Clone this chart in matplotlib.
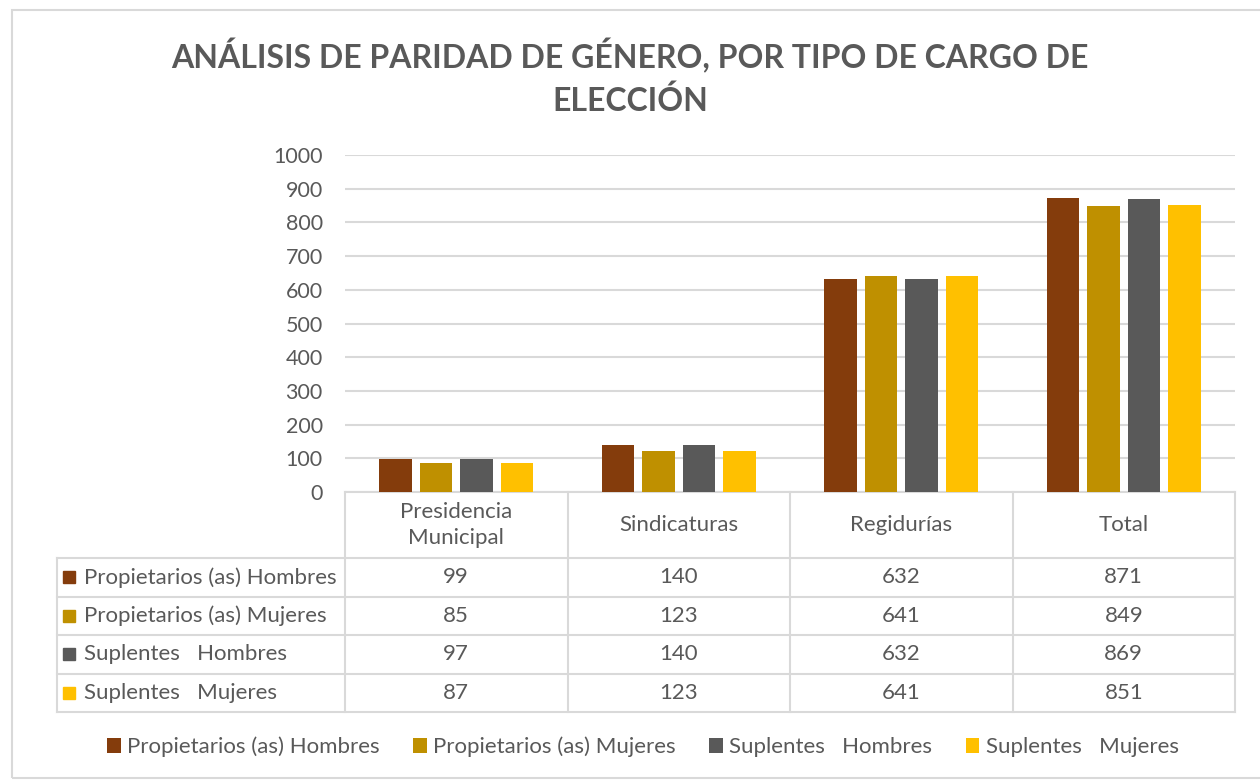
import matplotlib.pyplot as plt
from matplotlib.patches import Rectangle
import numpy as np

plt.rcParams['font.family'] = ['Lato', 'DejaVu Sans']

categories = ["Presidencia\nMunicipal", "Sindicaturas", "Regidurías", "Total"]
series_names = ["Propietarios (as) Hombres", "Propietarios (as) Mujeres",
                "Suplentes   Hombres", "Suplentes   Mujeres"]
prop_hombres = [99, 140, 632, 871]
prop_mujeres = [85, 123, 641, 849]
supl_hombres = [97, 140, 632, 869]
supl_mujeres = [87, 123, 641, 851]
y_ticks = [0, 100, 200, 300, 400, 500, 600, 700, 800, 900, 1000]

series = [prop_hombres, prop_mujeres, supl_hombres, supl_mujeres]
colors = ["#843C0C", "#BF9000", "#595959", "#FFC000"]
text_col = "#595959"
grid_col = "#d9d9d9"

W, H = 1260, 780


def box(x0, y0, x1, y1):
    # pixel box (top-left origin) -> figure fraction rect
    return [x0 / W, 1 - y1 / H, (x1 - x0) / W, (y1 - y0) / H]


fig = plt.figure(figsize=(12.6, 7.8), dpi=100)

# outer chart border
fig.patches.append(Rectangle((12 / W, 2 / H), 1.0, 1 - 12 / H, transform=fig.transFigure,
                             fill=False, edgecolor=grid_col, linewidth=1.5))

fig.text(0.5, 1 - 77 / H, "ANÁLISIS DE PARIDAD DE GÉNERO, POR TIPO DE CARGO DE\nELECCIÓN",
         ha="center", va="center", fontsize=23, fontweight="bold", color=text_col,
         linespacing=1.5)

# ---- bar chart
ax = fig.add_axes(box(345, 155, 1235, 492))
x = np.arange(len(categories))
bw = 0.144
step = 0.182
for i, (vals, c) in enumerate(zip(series, colors)):
    ax.bar(x + (i - 1.5) * step, vals, width=bw, color=c, label=series_names[i], zorder=3)

ax.set_xlim(-0.5, len(categories) - 0.5)
ax.set_ylim(0, 1000)
ax.set_yticks(y_ticks)
ax.set_xticks([])
ax.yaxis.grid(True, color=grid_col, linewidth=1.5, zorder=0)
for s in ["top", "right", "left"]:
    ax.spines[s].set_visible(False)
ax.spines["bottom"].set_color(grid_col)
ax.spines["bottom"].set_linewidth(1.5)
ax.tick_params(axis="y", length=0, pad=16, labelsize=15.5, labelcolor=text_col)

# ---- data table below the chart
tab = fig.add_axes(box(57, 492, 1235, 712))
label_w = (345 - 57) / 222.5
tab.set_xlim(-0.5 - label_w, len(categories) - 0.5)
head_h = 66
row_h = (712 - 492 - head_h) / len(series)
tab.set_ylim(head_h + row_h * len(series), 0)
tab.axis("off")

fs = 16
lw = 1.5
bottom = head_h + row_h * len(series)
for k in range(len(categories) + 1):
    tab.plot([k - 0.5, k - 0.5], [0, bottom], color=grid_col, lw=lw, clip_on=False)
tab.plot([-0.5 - label_w] * 2, [head_h, bottom], color=grid_col, lw=lw, clip_on=False)
for r in range(len(series) + 1):
    yy = head_h + r * row_h
    tab.plot([-0.5 - label_w, len(categories) - 0.5], [yy, yy], color=grid_col, lw=lw,
             clip_on=False)

for k, cat in enumerate(categories):
    tab.text(k, head_h / 2, cat, ha="center", va="center", fontsize=fs, color=text_col,
             linespacing=1.35)

sq_w = 12 / 222.5
for r, (name, vals, c) in enumerate(zip(series_names, series, colors)):
    yc = head_h + (r + 0.5) * row_h
    x0 = -0.5 - label_w + 6 / 222.5
    tab.add_patch(Rectangle((x0, yc - 6), sq_w, 12, color=c, clip_on=False))
    tab.text(x0 + sq_w + 9 / 222.5, yc, name, ha="left", va="center", fontsize=fs,
             color=text_col)
    for k, v in enumerate(vals):
        tab.text(k, yc, str(v), ha="center", va="center", fontsize=fs, color=text_col)

# ---- legend at bottom
handles, labels = ax.get_legend_handles_labels()
fig.legend(handles, labels, loc="center", bbox_to_anchor=(0.5 + 13 / W, 1 - 747 / H), ncol=4,
           frameon=False, fontsize=fs, labelcolor=text_col, handlelength=0.6,
           handleheight=0.6, handletextpad=0.3, columnspacing=1.5)

fig.savefig("out.png", dpi=100)
